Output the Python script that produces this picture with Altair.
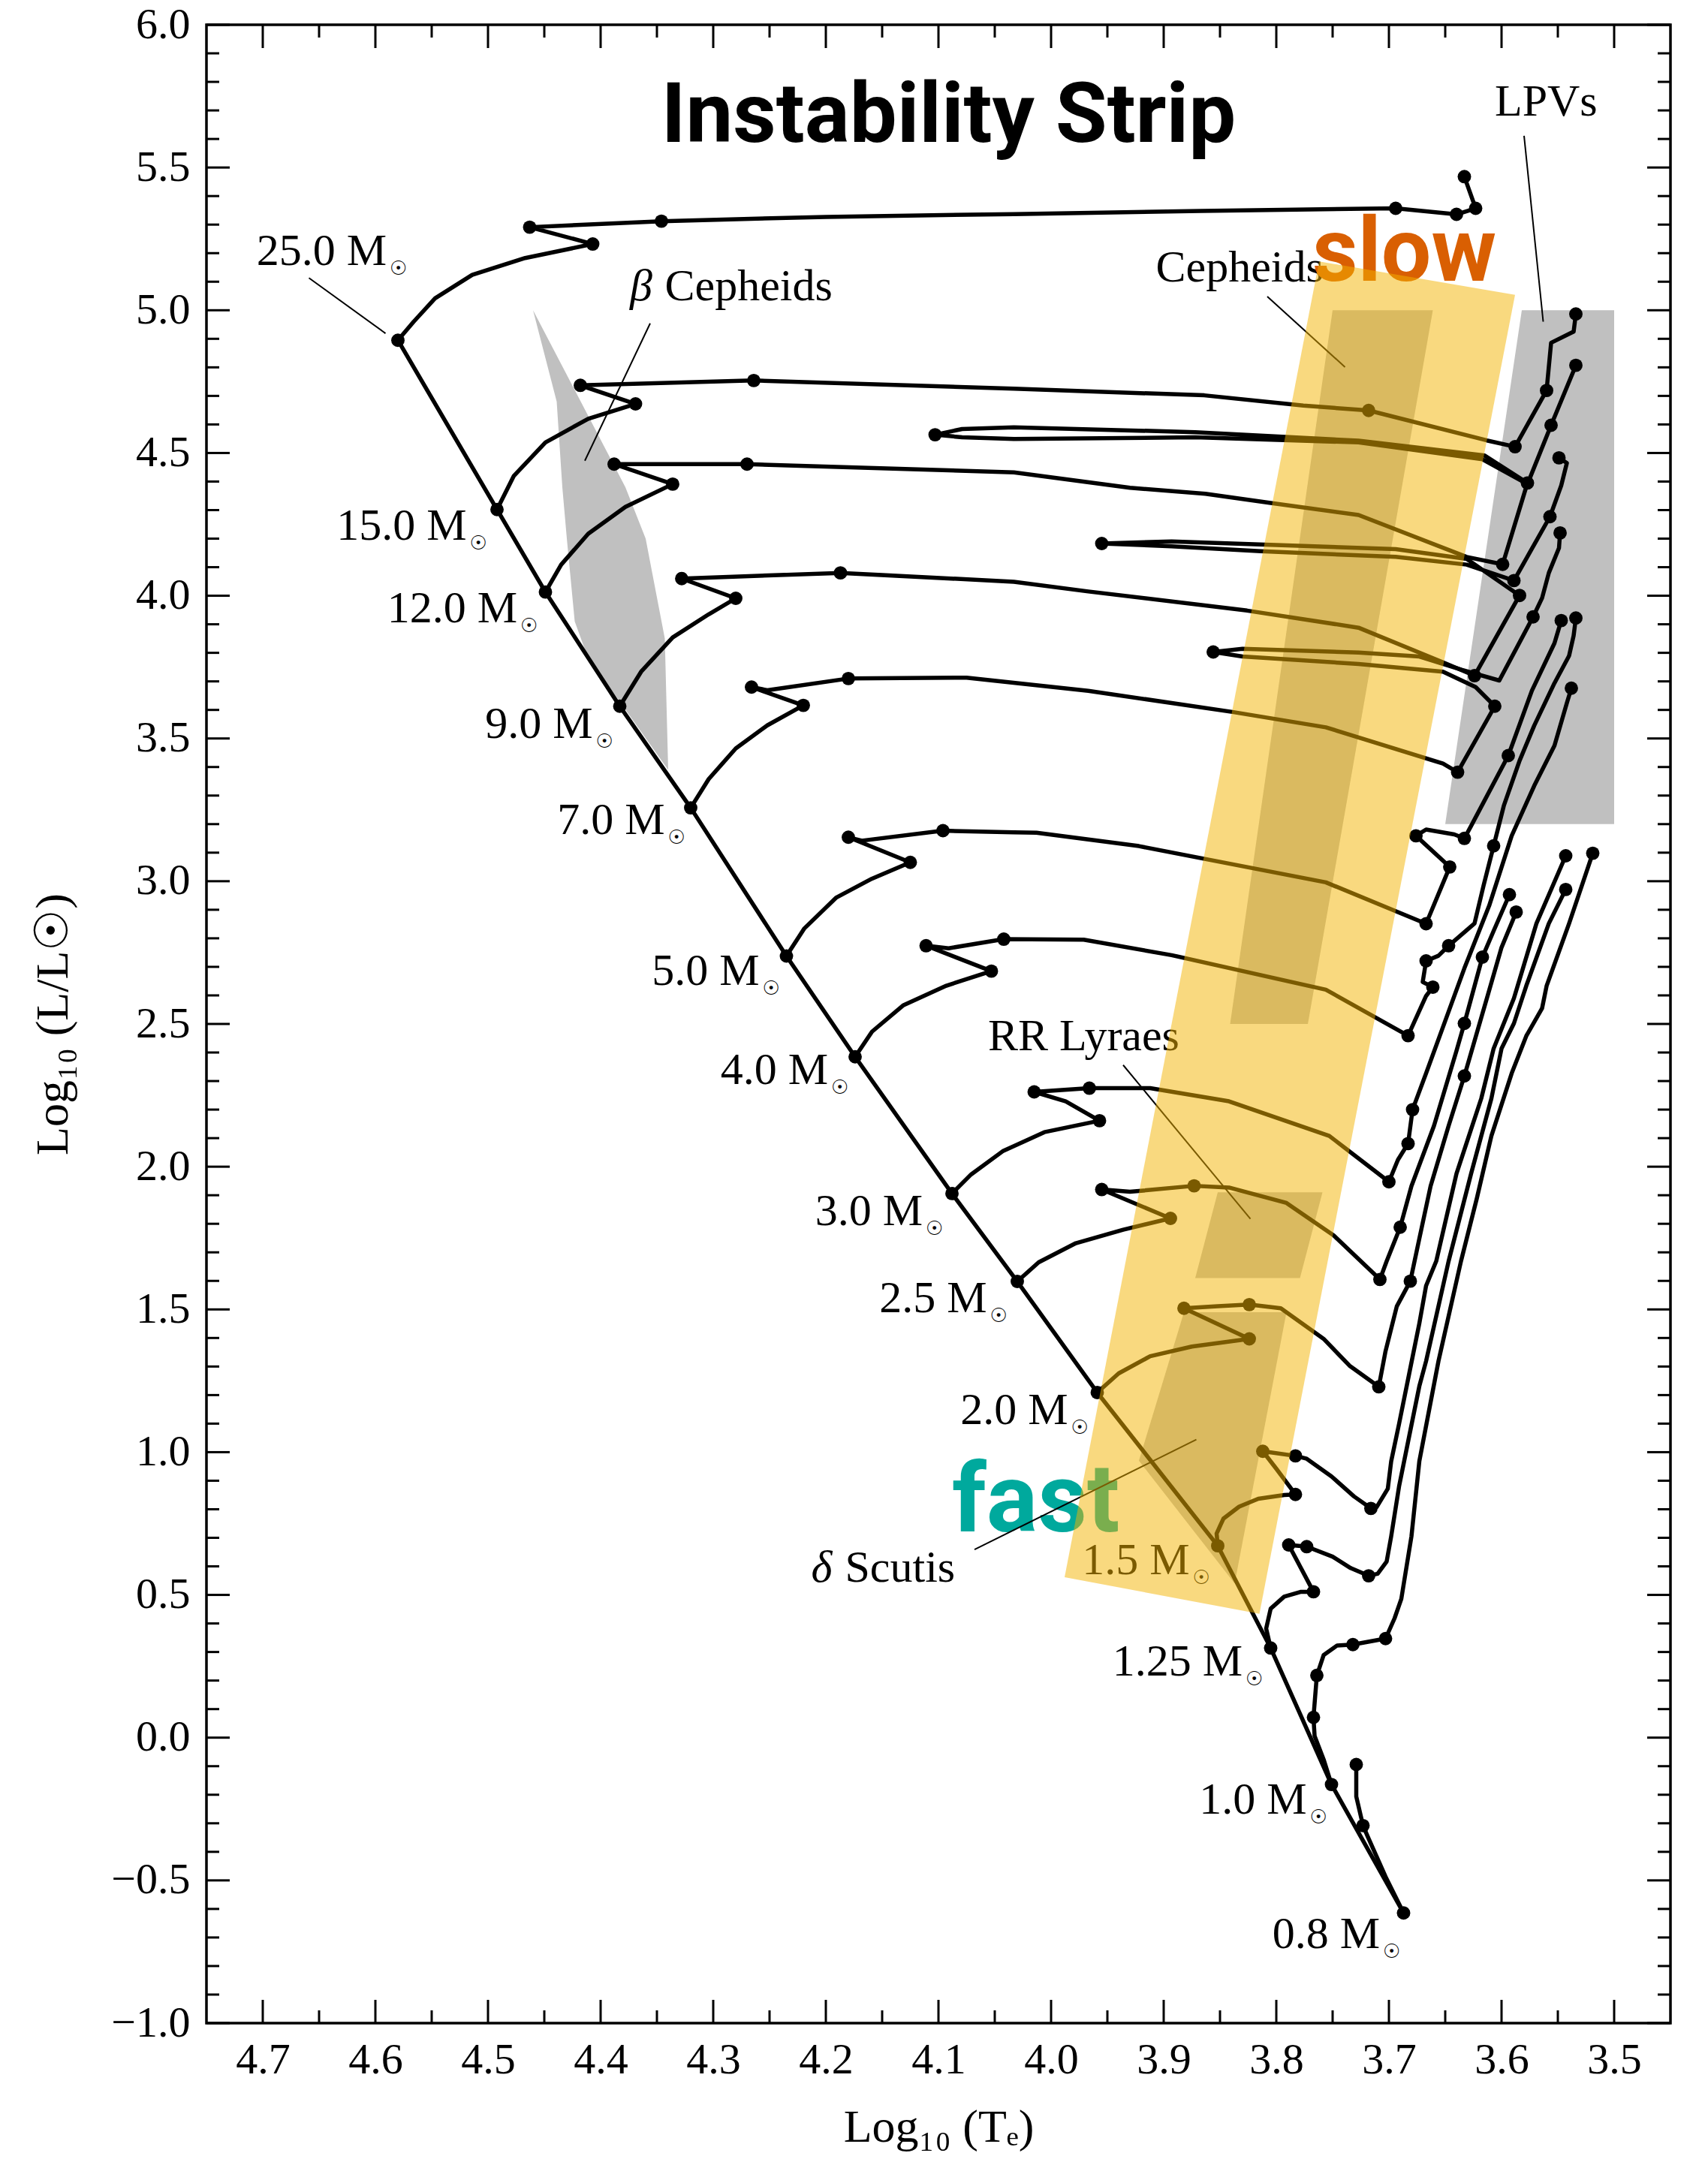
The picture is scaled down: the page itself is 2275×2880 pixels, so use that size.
import altair as alt
import pandas as pd

W, H = 1950, 2662

# ---------------- evolutionary tracks: (log Te, log L, dot) ----------------
T25 = [(4.580, 4.895, 1), (4.566, 4.960, 0), (4.547, 5.042, 0), (4.514, 5.124, 0), (4.467, 5.183, 0),
       (4.407, 5.232, 1), (4.463, 5.291, 1), (4.346, 5.312, 1), (4.200, 5.327, 0), (4.033, 5.337, 0),
       (3.867, 5.348, 0), (3.694, 5.357, 1), (3.640, 5.336, 1), (3.623, 5.357, 1), (3.633, 5.468, 1)]
T15 = [(4.492, 4.302, 1), (4.477, 4.420, 0), (4.449, 4.537, 0), (4.411, 4.620, 0), (4.369, 4.672, 1),
       (4.418, 4.737, 1), (4.264, 4.754, 1), (4.033, 4.725, 0), (3.864, 4.702, 0), (3.776, 4.666, 0),
       (3.718, 4.649, 1), (3.613, 4.544, 0), (3.588, 4.522, 1), (3.560, 4.719, 1), (3.556, 4.886, 0),
       (3.536, 4.925, 0), (3.534, 4.987, 1)]
T12 = [(4.449, 4.013, 1), (4.435, 4.109, 0), (4.411, 4.217, 0), (4.378, 4.311, 0), (4.336, 4.391, 1),
       (4.388, 4.461, 1), (4.270, 4.461, 1), (4.033, 4.432, 0), (3.930, 4.378, 0), (3.863, 4.357, 0),
       (3.805, 4.325, 0), (3.727, 4.283, 0), (3.631, 4.136, 0), (3.599, 4.110, 1), (3.577, 4.395, 1),
       (3.615, 4.491, 0), (3.727, 4.543, 0), (3.872, 4.573, 0), (4.033, 4.590, 0), (4.079, 4.584, 0),
       (4.103, 4.564, 1), (4.079, 4.555, 0), (4.033, 4.549, 0), (3.872, 4.555, 0), (3.727, 4.537, 0),
       (3.617, 4.478, 0), (3.577, 4.391, 0), (3.556, 4.597, 1), (3.534, 4.807, 1)]
T9 = [(4.383, 3.613, 1), (4.364, 3.734, 0), (4.336, 3.854, 0), (4.304, 3.935, 0), (4.280, 3.991, 1),
      (4.328, 4.060, 1), (4.187, 4.080, 1), (4.033, 4.049, 0), (3.967, 4.015, 0), (3.826, 3.948, 0),
      (3.727, 3.888, 0), (3.652, 3.767, 0), (3.624, 3.720, 1), (3.584, 4.001, 1), (3.631, 4.129, 0),
      (3.694, 4.163, 0), (3.810, 4.179, 0), (3.893, 4.190, 0), (3.955, 4.183, 1), (3.893, 4.173, 0),
      (3.814, 4.156, 0), (3.694, 4.136, 0), (3.631, 4.109, 0), (3.589, 4.053, 1), (3.557, 4.277, 1),
      (3.547, 4.386, 0), (3.542, 4.465, 0), (3.549, 4.483, 1)]
T7 = [(4.320, 3.257, 1), (4.304, 3.358, 0), (4.280, 3.465, 0), (4.252, 3.546, 0), (4.220, 3.616, 1),
      (4.266, 3.680, 1), (4.252, 3.669, 0), (4.180, 3.710, 1), (4.075, 3.713, 0), (3.967, 3.667, 0),
      (3.839, 3.593, 0), (3.756, 3.539, 0), (3.652, 3.412, 0), (3.639, 3.382, 1), (3.606, 3.613, 1),
      (3.623, 3.680, 0), (3.652, 3.734, 0), (3.727, 3.761, 0), (3.830, 3.787, 0), (3.856, 3.803, 1),
      (3.830, 3.814, 0), (3.727, 3.801, 0), (3.673, 3.787, 0), (3.635, 3.740, 0), (3.602, 3.703, 0),
      (3.572, 3.926, 1), (3.564, 3.992, 0), (3.558, 4.080, 0), (3.549, 4.167, 0), (3.548, 4.220, 1)]
T5 = [(4.235, 2.738, 1), (4.219, 2.835, 0), (4.191, 2.942, 0), (4.159, 3.009, 0), (4.125, 3.066, 1),
      (4.180, 3.154, 1), (4.168, 3.142, 0), (4.096, 3.177, 1), (4.033, 3.171, 0), (4.013, 3.170, 0),
      (3.922, 3.123, 0), (3.756, 2.996, 0), (3.667, 2.851, 1), (3.646, 3.050, 1), (3.676, 3.159, 1),
      (3.667, 3.181, 0), (3.642, 3.164, 0), (3.633, 3.150, 1), (3.627, 3.194, 0), (3.594, 3.440, 1),
      (3.573, 3.668, 0), (3.553, 3.834, 0), (3.547, 3.913, 1)]
T4 = [(4.174, 2.385, 1), (4.159, 2.473, 0), (4.131, 2.566, 0), (4.093, 2.634, 0), (4.053, 2.685, 1),
      (4.111, 2.774, 1), (4.091, 2.765, 0), (4.042, 2.797, 1), (3.971, 2.795, 0), (3.893, 2.741, 0),
      (3.756, 2.620, 0), (3.683, 2.459, 1), (3.667, 2.598, 0), (3.661, 2.629, 1), (3.670, 2.647, 0),
      (3.667, 2.721, 1), (3.656, 2.739, 0), (3.647, 2.774, 1), (3.624, 2.852, 0), (3.616, 2.984, 0),
      (3.607, 3.124, 1), (3.598, 3.264, 0), (3.584, 3.422, 0), (3.571, 3.545, 0), (3.553, 3.694, 0),
      (3.540, 3.790, 0), (3.536, 3.860, 0), (3.534, 3.922, 1)]
T3 = [(4.088, 1.906, 1), (4.071, 1.973, 0), (4.043, 2.054, 0), (4.006, 2.121, 0), (3.957, 2.161, 1),
      (3.987, 2.229, 0), (4.015, 2.262, 1), (3.966, 2.275, 1), (3.912, 2.275, 0), (3.842, 2.229, 0),
      (3.753, 2.108, 0), (3.700, 1.947, 1), (3.692, 2.024, 0), (3.683, 2.081, 1), (3.679, 2.200, 1),
      (3.667, 2.327, 0), (3.650, 2.511, 0), (3.633, 2.695, 0), (3.611, 2.914, 0), (3.591, 3.159, 0),
      (3.571, 3.334, 0), (3.553, 3.475, 0), (3.542, 3.624, 0), (3.538, 3.676, 1)]
T2p5 = [(4.030, 1.598, 1), (4.011, 1.665, 0), (3.978, 1.732, 0), (3.936, 1.779, 0), (3.894, 1.819, 1),
        (3.955, 1.920, 1), (3.930, 1.912, 0), (3.873, 1.933, 1), (3.842, 1.927, 0), (3.791, 1.873, 0),
        (3.749, 1.759, 0), (3.708, 1.605, 1), (3.702, 1.669, 0), (3.690, 1.788, 1), (3.680, 1.932, 0),
        (3.660, 2.143, 0), (3.640, 2.406, 0), (3.633, 2.502, 1), (3.617, 2.734, 1), (3.607, 2.826, 0),
        (3.593, 2.953, 1)]
T2 = [(3.959, 1.209, 1), (3.940, 1.276, 0), (3.912, 1.336, 0), (3.875, 1.370, 0), (3.824, 1.397, 1),
      (3.882, 1.504, 1), (3.852, 1.511, 0), (3.824, 1.517, 1), (3.796, 1.504, 0), (3.758, 1.397, 0),
      (3.735, 1.303, 0), (3.709, 1.229, 1), (3.703, 1.354, 0), (3.693, 1.511, 0), (3.681, 1.599, 1),
      (3.673, 1.748, 0), (3.663, 1.932, 0), (3.647, 2.143, 0), (3.633, 2.318, 1), (3.613, 2.590, 0),
      (3.600, 2.768, 0), (3.587, 2.892, 1)]
T1p5 = [(3.852, 0.672, 1), (3.853, 0.715, 0), (3.847, 0.767, 0), (3.833, 0.809, 0), (3.816, 0.837, 0),
        (3.793, 0.850, 0), (3.783, 0.852, 1), (3.800, 0.942, 0), (3.812, 1.003, 1), (3.783, 0.987, 1),
        (3.773, 0.977, 0), (3.751, 0.915, 0), (3.731, 0.845, 0), (3.716, 0.803, 1), (3.711, 0.807, 0),
        (3.701, 0.872, 0), (3.698, 0.968, 0), (3.691, 1.099, 0), (3.682, 1.275, 0), (3.673, 1.451, 0),
        (3.667, 1.583, 0), (3.658, 1.669, 0), (3.640, 1.976, 0), (3.618, 2.239, 0), (3.607, 2.414, 0),
        (3.589, 2.590, 0), (3.569, 2.852, 0), (3.543, 3.089, 1)]
T1p25 = [(3.805, 0.314, 1), (3.809, 0.382, 0), (3.805, 0.452, 0), (3.793, 0.494, 0), (3.778, 0.511, 0),
         (3.767, 0.511, 1), (3.789, 0.675, 1), (3.773, 0.669, 1), (3.750, 0.634, 0), (3.734, 0.594, 0),
         (3.718, 0.567, 1), (3.710, 0.574, 0), (3.702, 0.617, 0), (3.698, 0.705, 0), (3.691, 0.880, 0),
         (3.682, 1.056, 0), (3.673, 1.231, 0), (3.667, 1.319, 0), (3.647, 1.669, 0), (3.627, 1.976, 0),
         (3.609, 2.239, 0), (3.600, 2.414, 0), (3.589, 2.502, 0), (3.578, 2.634, 0), (3.558, 2.852, 0),
         (3.543, 2.971, 1)]
T1 = [(3.751, -0.164, 1), (3.758, -0.076, 0), (3.766, 0.006, 0), (3.767, 0.071, 1), (3.764, 0.218, 1),
      (3.758, 0.289, 0), (3.746, 0.323, 0), (3.732, 0.326, 1), (3.703, 0.347, 1), (3.695, 0.418, 0),
      (3.689, 0.486, 0), (3.680, 0.705, 0), (3.673, 0.968, 0), (3.656, 1.319, 0), (3.636, 1.669, 0),
      (3.622, 1.888, 0), (3.609, 2.108, 0), (3.591, 2.327, 0), (3.578, 2.458, 0), (3.564, 2.555, 0),
      (3.560, 2.633, 0), (3.540, 2.852, 0), (3.519, 3.098, 1)]
T0p8 = [(3.687, -0.614, 1), (3.703, -0.487, 0), (3.719, -0.345, 0), (3.723, -0.308, 1), (3.729, -0.206, 0),
        (3.729, -0.094, 1)]

TRACKS = [("25.0", T25), ("15.0", T15), ("12.0", T12), ("9.0", T9), ("7.0", T7), ("5.0", T5),
          ("4.0", T4), ("3.0", T3), ("2.5", T2p5), ("2.0", T2), ("1.5", T1p5), ("1.25", T1p25),
          ("1.0", T1), ("0.8", T0p8)]

# mass labels (right edge of "M", baseline)
MASS_TEXT = ["25.0 M", "15.0 M", "12.0 M", "9.0 M", "7.0 M", "5.0 M", "4.0 M", "3.0 M",
             "2.5 M", "2.0 M", "1.5 M", "1.25 M", "1.0 M", "0.8 M"]
MASS_X = [4.590, 4.519, 4.474, 4.407, 4.343, 4.259, 4.198, 4.114, 4.057, 3.985, 3.877, 3.830, 3.773, 3.708]
MASS_Y = [5.159, 4.196, 3.908, 3.503, 3.164, 2.638, 2.289, 1.795, 1.490, 1.099, 0.572, 0.218, -0.266, -0.736]

# shaded regions (polygon vertices)
BETA_X = [4.460, 4.411, 4.378, 4.360, 4.343, 4.340, 4.412, 4.423, 4.430, 4.434, 4.439]
BETA_Y = [5.00, 4.63, 4.38, 4.20, 3.85, 3.39, 3.79, 3.91, 4.20, 4.38, 4.68]
LPV_X = [3.650, 3.582, 3.500, 3.500]
LPV_Y = [3.20, 5.00, 5.00, 3.20]
CEPH_X = [3.841, 3.750, 3.661, 3.772]
CEPH_Y = [2.50, 5.00, 5.00, 2.50]
RRL_X = [3.872, 3.852, 3.759, 3.779]
RRL_Y = [1.61, 1.91, 1.91, 1.61]
DSCT_X = [3.922, 3.882, 3.791, 3.837]
DSCT_Y = [0.97, 1.49, 1.49, 0.54]
STRIP_X = [3.762, 3.588, 3.815, 3.988]
STRIP_Y = [5.171, 5.054, 0.434, 0.562]

# region labels and pointer lines
REG_TEXT = ["Cepheids", "Cepheids", "LPVs", "RR Lyraes", "Scutis"]
REG_X = [4.343, 3.907, 3.606, 4.056, 4.183]
REG_Y = [5.036, 5.101, 5.682, 2.409, 0.545]
GREEK_TEXT = ["β", "δ"]
GREEK_X = [4.374, 4.213]
GREEK_Y = [5.036, 0.545]
PTR_X1 = [4.659, 4.356, 3.808, 3.580, 3.936, 4.068]
PTR_Y1 = [5.113, 4.954, 5.048, 5.611, 2.356, 0.659]
PTR_X2 = [4.591, 4.414, 3.739, 3.563, 3.823, 3.871]
PTR_Y2 = [4.919, 4.473, 4.801, 4.960, 1.817, 1.044]

# ticks
X_MAJOR = [4.7, 4.6, 4.5, 4.4, 4.3, 4.2, 4.1, 4.0, 3.9, 3.8, 3.7, 3.6, 3.5]
X_MINOR = [4.65, 4.55, 4.45, 4.35, 4.25, 4.15, 4.05, 3.95, 3.85, 3.75, 3.65, 3.55]
Y_MAJOR = [-1.0, -0.5, 0.0, 0.5, 1.0, 1.5, 2.0, 2.5, 3.0, 3.5, 4.0, 4.5, 5.0, 5.5, 6.0]
Y_MINOR = [round(-1.0 + 0.1 * k, 1) for k in range(71) if k % 5 != 0]

# ---------------- tables ----------------
rows = []
for name, pts in TRACKS:
    for i, (x, y, d) in enumerate(pts):
        rows.append({"track": name, "i": i, "x": x, "y": y, "dot": d})
tracks_df = pd.DataFrame(rows)
dots_df = tracks_df[tracks_df["dot"] == 1]
ms_df = pd.DataFrame([{"i": k, "x": pts[0][0], "y": pts[0][1]} for k, (_, pts) in enumerate(TRACKS)])


def hspan(name, xs, ys):
    poly = list(zip(xs, ys))
    out = []
    for yv in sorted(set(ys)):
        cut = []
        for k in range(len(poly)):
            (x1, y1), (x2, y2) = poly[k], poly[(k + 1) % len(poly)]
            if y1 == y2 == yv:
                cut += [x1, x2]
            elif y1 != y2 and min(y1, y2) <= yv <= max(y1, y2):
                cut.append(x1 + (yv - y1) / (y2 - y1) * (x2 - x1))
        out.append({"shape": name, "y": yv, "xa": min(cut), "xb": max(cut)})
    return out


grey_df = pd.DataFrame(hspan("beta", BETA_X, BETA_Y) + hspan("lpv", LPV_X, LPV_Y) +
                       hspan("ceph", CEPH_X, CEPH_Y) + hspan("rrl", RRL_X, RRL_Y) +
                       hspan("dsct", DSCT_X, DSCT_Y))
strip_df = pd.DataFrame(hspan("strip", STRIP_X, STRIP_Y))

mass_df = pd.DataFrame({"x": MASS_X, "y": MASS_Y, "t": MASS_TEXT, "s": ["☉"] * len(MASS_X)})
reg_df = pd.DataFrame({"x": REG_X, "y": REG_Y, "t": REG_TEXT})
greek_df = pd.DataFrame({"x": GREEK_X, "y": GREEK_Y, "t": GREEK_TEXT})
ptr_df = pd.DataFrame({"x1": PTR_X1, "y1": PTR_Y1, "x2": PTR_X2, "y2": PTR_Y2})
slow_df = pd.DataFrame({"x": [3.768], "y": [5.103], "t": ["slow"]})
fast_df = pd.DataFrame({"x": [4.088], "y": [0.723], "t": ["fast"]})
title_df = pd.DataFrame({"x": [4.091], "y": [5.59], "t": ["Instability Strip"]})
xmaj_df = pd.DataFrame({"v": X_MAJOR})
xmin_df = pd.DataFrame({"v": X_MINOR})
ymaj_df = pd.DataFrame({"v": Y_MAJOR})
ymin_df = pd.DataFrame({"v": Y_MINOR})

# ---------------- encodings ----------------
SERIF = "Liberation Serif"
XS = alt.Scale(domain=[3.45, 4.75], reverse=True, nice=False, zero=False)
YS = alt.Scale(domain=[-1.0, 6.0], nice=False, zero=False)
XA = alt.Axis(values=X_MAJOR, format=".1f", ticks=False, domain=False, grid=False,
              labelFont=SERIF, labelFontSize=58, labelPadding=20, labelFlush=False,
              labelOverlap=False, labelColor="black",
              title="Log₁₀ (Tₑ)", titleFont=SERIF, titleFontSize=62, titleFontWeight="normal",
              titlePadding=30, titleColor="black")
YA = alt.Axis(values=Y_MAJOR, format=".1f", ticks=False, domain=False, grid=False,
              labelFont=SERIF, labelFontSize=58, labelPadding=22, labelFlush=False,
              labelOverlap=False, labelColor="black",
              title="Log₁₀ (L/L☉)", titleFont=SERIF, titleFontSize=62, titleFontWeight="normal",
              titlePadding=45, titleColor="black")


def X(f):
    return alt.X(f, type="quantitative", scale=XS, axis=XA)


def Y(f):
    return alt.Y(f, type="quantitative", scale=YS, axis=YA)


grey = alt.Chart(grey_df).mark_area(orient="horizontal", color="#c0c0c0", opacity=1).encode(
    y=Y("y"), x=X("xa"), x2=alt.X2("xb"), detail="shape:N")

lines = alt.Chart(tracks_df).mark_line(color="black", strokeWidth=5.5, strokeJoin="round",
                                       strokeCap="round").encode(
    x=X("x"), y=Y("y"), detail="track:N", order=alt.Order("i:Q"))

ms = alt.Chart(ms_df).mark_line(color="black", strokeWidth=5.5, strokeJoin="round").encode(
    x=X("x"), y=Y("y"), order=alt.Order("i:Q"))

dots = alt.Chart(dots_df).mark_circle(color="black", size=320, opacity=1).encode(x=X("x"), y=Y("y"))

mass_txt = alt.Chart(mass_df).mark_text(font=SERIF, fontSize=60, align="right", baseline="alphabetic",
                                        color="black").encode(x=X("x"), y=Y("y"), text="t:N")
sun_txt = alt.Chart(mass_df).mark_text(font="DejaVu Sans", fontSize=26, align="left",
                                       baseline="alphabetic", dx=4, dy=13, color="black").encode(
    x=X("x"), y=Y("y"), text="s:N")

reg_txt = alt.Chart(reg_df).mark_text(font=SERIF, fontSize=60, align="left", baseline="alphabetic",
                                      color="black").encode(x=X("x"), y=Y("y"), text="t:N")
greek_txt = alt.Chart(greek_df).mark_text(font=SERIF, fontSize=60, fontStyle="italic", align="left",
                                          baseline="alphabetic", color="black").encode(
    x=X("x"), y=Y("y"), text="t:N")

slow_txt = alt.Chart(slow_df).mark_text(font="Roboto", fontSize=118, fontWeight="bold", align="left",
                                        baseline="alphabetic", color="#d95f02").encode(
    x=X("x"), y=Y("y"), text="t:N")
fast_txt = alt.Chart(fast_df).mark_text(font="Roboto", fontSize=128, fontWeight="bold", align="left",
                                        baseline="alphabetic", color="#00a99d").encode(
    x=X("x"), y=Y("y"), text="t:N")

ptrs = alt.Chart(ptr_df).mark_rule(color="black", strokeWidth=2).encode(
    x=X("x1"), y=Y("y1"), x2=alt.X2("x2"), y2=alt.Y2("y2"))

strip = alt.Chart(strip_df).mark_area(orient="horizontal", color="#f4b400", opacity=0.5).encode(
    y=Y("y"), x=X("xa"), x2=alt.X2("xb"))

title = alt.Chart(title_df).mark_text(font="Roboto", fontSize=112, fontWeight="bold", align="center",
                                      baseline="alphabetic", color="black").encode(
    x=X("x"), y=Y("y"), text="t:N")

MAJ, MIN = 31, 17
tick_layers = [
    alt.Chart(xmaj_df).mark_rule(color="black", strokeWidth=3).encode(
        x=X("v"), y=alt.value(H), y2=alt.value(H - MAJ)),
    alt.Chart(xmaj_df).mark_rule(color="black", strokeWidth=3).encode(
        x=X("v"), y=alt.value(0), y2=alt.value(MAJ)),
    alt.Chart(xmin_df).mark_rule(color="black", strokeWidth=3).encode(
        x=X("v"), y=alt.value(H), y2=alt.value(H - MIN)),
    alt.Chart(xmin_df).mark_rule(color="black", strokeWidth=3).encode(
        x=X("v"), y=alt.value(0), y2=alt.value(MIN)),
    alt.Chart(ymaj_df).mark_rule(color="black", strokeWidth=3).encode(
        y=Y("v"), x=alt.value(0), x2=alt.value(MAJ)),
    alt.Chart(ymaj_df).mark_rule(color="black", strokeWidth=3).encode(
        y=Y("v"), x=alt.value(W), x2=alt.value(W - MAJ)),
    alt.Chart(ymin_df).mark_rule(color="black", strokeWidth=3).encode(
        y=Y("v"), x=alt.value(0), x2=alt.value(MIN)),
    alt.Chart(ymin_df).mark_rule(color="black", strokeWidth=3).encode(
        y=Y("v"), x=alt.value(W), x2=alt.value(W - MIN)),
]

chart = alt.layer(
    grey, lines, ms, dots, mass_txt, sun_txt, reg_txt, greek_txt, slow_txt, fast_txt, ptrs,
    strip, title, *tick_layers
).properties(
    width=W, height=H,
    autosize=alt.AutoSizeParams(type="none"),
    padding={"left": 275, "top": 33, "right": 50, "bottom": 185},
    background="white",
).configure_view(stroke="black", strokeWidth=3.5)

chart.save("out.html", embed_options={"renderer": "svg", "actions": False})
